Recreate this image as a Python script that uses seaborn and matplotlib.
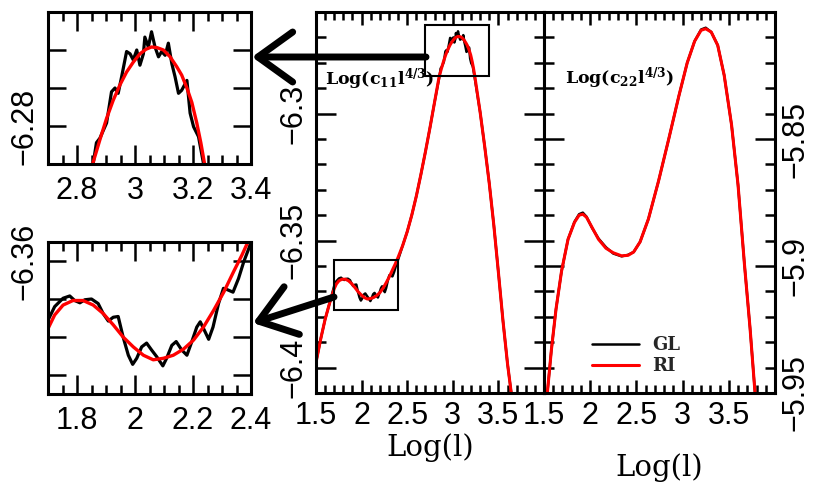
import matplotlib
matplotlib.use("Agg")
import matplotlib.pyplot as plt
import seaborn as sns
from matplotlib.patches import Rectangle, FancyArrowPatch
from matplotlib.ticker import MultipleLocator, FixedLocator, FixedFormatter

# ---------------- data ----------------
# Log(c11 l^{4/3}) vs Log(l): RI (smooth) curve
RI_C11_X = [1.50, 1.55, 1.60, 1.65, 1.70, 1.723, 1.752, 1.786, 1.821, 1.856,
            1.890, 1.925, 1.959, 1.994, 2.029, 2.063, 2.098, 2.132, 2.167, 2.202,
            2.236, 2.271, 2.306, 2.340, 2.369, 2.40, 2.45, 2.50, 2.55, 2.60,
            2.65, 2.70, 2.75, 2.80, 2.85, 2.879, 2.902, 2.925, 2.948, 2.971,
            2.994, 3.017, 3.038, 3.057, 3.077, 3.098, 3.121, 3.144, 3.161, 3.179,
            3.196, 3.213, 3.227, 3.240, 3.30, 3.35, 3.40, 3.45, 3.50, 3.55,
            3.60, 3.65]
RI_C11_Y = [-6.398, -6.389, -6.381, -6.3745, -6.3689, -6.3671, -6.3658, -6.3652, -6.3652, -6.3658,
            -6.3669, -6.3684, -6.3700, -6.3713, -6.3724, -6.3730, -6.3728, -6.3724, -6.3716, -6.3704,
            -6.3687, -6.3665, -6.3641, -6.3614, -6.3592, -6.3566, -6.3520, -6.3465, -6.3400, -6.3325,
            -6.3240, -6.3150, -6.3055, -6.2955, -6.2855, -6.2818, -6.2790, -6.2766, -6.2746, -6.2729,
            -6.2716, -6.2705, -6.2699, -6.2696, -6.2697, -6.2700, -6.2709, -6.2722, -6.2733, -6.2750,
            -6.2769, -6.2796, -6.2822, -6.2850, -6.2995, -6.3130, -6.3275, -6.3440, -6.3625, -6.3815,
            -6.3985, -6.4125]

# Log(c11 l^{4/3}) vs Log(l): GL (oscillating) curve
GL_C11_X = [1.50, 1.55, 1.60, 1.65,
            1.700, 1.723, 1.752, 1.775, 1.792, 1.810, 1.827, 1.850, 1.873, 1.890,
            1.908, 1.925, 1.942, 1.959, 1.977, 1.992, 2.006, 2.023, 2.040, 2.057,
            2.075, 2.096, 2.109, 2.127, 2.142, 2.161, 2.179, 2.196, 2.213, 2.225,
            2.239, 2.254, 2.269, 2.288, 2.305, 2.320, 2.338, 2.357, 2.375, 2.392,
            2.45, 2.50, 2.55, 2.60, 2.65, 2.70, 2.75, 2.80,
            2.856, 2.867, 2.879, 2.902, 2.919, 2.931, 2.942, 2.954, 2.971, 2.983,
            2.994, 3.006, 3.017, 3.029, 3.034, 3.046, 3.057, 3.069, 3.081, 3.092,
            3.104, 3.115, 3.127, 3.138, 3.150, 3.161, 3.179, 3.190, 3.202, 3.219,
            3.236,
            3.30, 3.35, 3.40, 3.45, 3.50, 3.55, 3.60, 3.65]
GL_C11_Y = [-6.398, -6.389, -6.381, -6.3745,
            -6.3678, -6.3660, -6.3649, -6.3646, -6.3652, -6.3655, -6.3651, -6.3650, -6.3656, -6.3669,
            -6.3679, -6.3674, -6.3673, -6.3700, -6.3724, -6.3736, -6.3728, -6.3713, -6.3708, -6.3717,
            -6.3726, -6.3738, -6.3728, -6.3711, -6.3706, -6.3717, -6.3724, -6.3706, -6.3687, -6.3680,
            -6.3691, -6.3703, -6.3687, -6.3656, -6.3636, -6.3638, -6.3641, -6.3623, -6.3601, -6.3584,
            -6.3520, -6.3465, -6.3400, -6.3325, -6.3240, -6.3150, -6.3055, -6.2955,
            -6.2849, -6.2822, -6.2816, -6.2796, -6.2755, -6.2750, -6.2757, -6.2735, -6.2702, -6.2705,
            -6.2713, -6.2700, -6.2720, -6.2705, -6.2683, -6.2696, -6.2676, -6.2696, -6.2709, -6.2702,
            -6.2707, -6.2691, -6.2718, -6.2735, -6.2757, -6.2753, -6.2740, -6.2783, -6.2801, -6.2814,
            -6.2849,
            -6.2995, -6.3130, -6.3275, -6.3440, -6.3625, -6.3815, -6.3985, -6.4125]

# Log(c22 l^{4/3}) vs Log(l)
C22_X = [1.536, 1.58, 1.63, 1.69, 1.76, 1.83, 1.88, 1.92, 1.96, 2.02,
         2.09, 2.17, 2.25, 2.34, 2.41, 2.47, 2.54, 2.63, 2.74, 2.85,
         2.96, 3.05, 3.13, 3.20, 3.25, 3.31, 3.38, 3.45, 3.53, 3.60,
         3.67, 3.73, 3.784]
RI_C22_Y = [-5.950, -5.933, -5.917, -5.902, -5.8895, -5.8828, -5.8800, -5.8796, -5.8808, -5.8848,
            -5.8895, -5.8930, -5.8948, -5.8960, -5.8958, -5.8945, -5.8905, -5.8815, -5.8665, -5.8500,
            -5.8330, -5.8200, -5.8115, -5.8072, -5.8066, -5.8079, -5.8131, -5.8249, -5.8445, -5.8681,
            -5.8996, -5.9245, -5.950]
GL_C22_Y = [-5.950, -5.933, -5.917, -5.902, -5.8895, -5.8826, -5.8796, -5.8790, -5.8806, -5.8850,
            -5.8892, -5.8926, -5.8951, -5.8962, -5.8956, -5.8945, -5.8905, -5.8815, -5.8665, -5.8500,
            -5.8330, -5.8200, -5.8115, -5.8069, -5.8062, -5.8079, -5.8131, -5.8249, -5.8445, -5.8681,
            -5.8996, -5.9245, -5.950]

SERIES = ["GL", "RI"]

# axis limits / ticks
MAIN_XLIM = (1.5, 4.0)
MAIN_XTICKS = [1.5, 2.0, 2.5, 3.0, 3.5]
MAIN_XLABELS = ["1.5", "2", "2.5", "3", "3.5"]
C11_YLIM = (-6.41, -6.26)
C11_YTICKS = [-6.40, -6.35, -6.30]
C11_YLABELS = ["\u22126.4", "\u22126.35", "\u22126.3"]
C22_YLIM = (-5.95, -5.80)
C22_YTICKS = [-5.95, -5.90, -5.85]
C22_YLABELS = ["\u22125.95", "\u22125.9", "\u22125.85"]

ZOOM1_XLIM = (2.7, 3.4)
ZOOM1_YLIM = (-6.285, -6.265)
ZOOM1_XTICKS = [2.8, 3.0, 3.2, 3.4]
ZOOM1_XLABELS = ["2.8", "3", "3.2", "3.4"]
ZOOM1_YTICKS = [-6.28, -6.275, -6.27]
ZOOM1_YLABELS = ["\u22126.28", "", ""]

ZOOM2_XLIM = (1.7, 2.4)
ZOOM2_YLIM = (-6.3775, -6.3575)
ZOOM2_XTICKS = [1.8, 2.0, 2.2, 2.4]
ZOOM2_XLABELS = ["1.8", "2", "2.2", "2.4"]
ZOOM2_YTICKS = [-6.375, -6.37, -6.365, -6.36]
ZOOM2_YLABELS = ["", "", "", "\u22126.36"]

# ---------------- style ----------------
sns.set_theme(style="ticks")
plt.rcParams.update({
    "font.family": ["Liberation Sans", "DejaVu Sans"],
    "mathtext.fontset": "custom",
    "mathtext.rm": "DejaVu Serif:bold",
    "mathtext.it": "DejaVu Serif:bold",
    "mathtext.bf": "DejaVu Serif:bold",
    "axes.linewidth": 2.2,
    "axes.edgecolor": "black",
    "axes.facecolor": "white",
    "figure.facecolor": "white",
    "xtick.color": "black",
    "ytick.color": "black",
    "axes.unicode_minus": True,
})

W, H = 814, 484
fig = plt.figure(figsize=(W / 100, H / 100), dpi=100)


def px_axes(x0, y0, x1, y1):
    return fig.add_axes([x0 / W, 1 - y1 / H, (x1 - x0) / W, (y1 - y0) / H])


TICK_FS = 22


def style_axis(ax, xmaj, xmin, ymaj, ymin, ylab_side="left", ypad=6.2, xpad=8.5):
    ax.tick_params(which="both", direction="in", top=True, bottom=True,
                   left=True, right=True, width=1.8, colors="black")
    ax.tick_params(axis="x", which="major", length=xmaj, pad=xpad, labelsize=TICK_FS)
    ax.tick_params(axis="x", which="minor", length=xmin)
    ax.tick_params(axis="y", which="major", length=ymaj, labelsize=TICK_FS,
                   labelrotation=90, pad=ypad)
    ax.tick_params(axis="y", which="minor", length=ymin)
    if ylab_side == "right":
        ax.tick_params(axis="y", labelleft=False, labelright=True)
    for t in ax.yaxis.get_ticklabels():
        t.set_va("center")
    for s in ax.spines.values():
        s.set_linewidth(2.2)
        s.set_color("black")
        s.set_visible(True)


def draw_pair(ax, gx, gy, rx, ry, lw_g, lw_r, labels=False):
    sns.lineplot(x=gx, y=gy, ax=ax, color="black", linewidth=lw_g,
                 estimator=None, sort=False, label=SERIES[0] if labels else None)
    sns.lineplot(x=rx, y=ry, ax=ax, color="#ff0000", linewidth=lw_r,
                 estimator=None, sort=False, label=SERIES[1] if labels else None)


# ---------------- middle panel (c11) ----------------
ax_m = px_axes(316, 12, 544, 393)
draw_pair(ax_m, GL_C11_X, GL_C11_Y, RI_C11_X, RI_C11_Y, 1.8, 2.2)
ax_m.set_xlim(*MAIN_XLIM)
ax_m.set_ylim(*C11_YLIM)
ax_m.xaxis.set_major_locator(FixedLocator(MAIN_XTICKS))
ax_m.xaxis.set_major_formatter(FixedFormatter(MAIN_XLABELS))
ax_m.xaxis.set_minor_locator(MultipleLocator(0.1))
ax_m.yaxis.set_major_locator(FixedLocator(C11_YTICKS))
ax_m.yaxis.set_major_formatter(FixedFormatter(C11_YLABELS))
ax_m.yaxis.set_minor_locator(MultipleLocator(0.01))
ax_m.set_xlabel("")
ax_m.set_ylabel("")
style_axis(ax_m, 9.4, 5.5, 14.4, 7.2, "left", ypad=5.5, xpad=5.5)
for xl, yl in [(ZOOM1_XLIM, ZOOM1_YLIM), (ZOOM2_XLIM, ZOOM2_YLIM)]:
    ax_m.add_patch(Rectangle((xl[0], yl[0]), xl[1] - xl[0], yl[1] - yl[0],
                             fill=False, ec="black", lw=1.5, zorder=5))
ax_m.text(0.04, 0.824, r"$\mathrm{Log(c_{11}l^{4/3})}$", transform=ax_m.transAxes,
          ha="left", va="center", fontsize=12.5, color="black", zorder=6)
ax_m.text(0.5, 1 - (448 - 12) / 381, "Log(l)", transform=ax_m.transAxes,
          ha="center", va="center", fontsize=21, family="DejaVu Serif", color="black")

# ---------------- right panel (c22) ----------------
ax_r = px_axes(544, 12, 775, 393)
draw_pair(ax_r, C22_X, GL_C22_Y, C22_X, RI_C22_Y, 1.8, 2.2, labels=True)
ax_r.set_xlim(*MAIN_XLIM)
ax_r.set_ylim(*C22_YLIM)
ax_r.xaxis.set_major_locator(FixedLocator(MAIN_XTICKS))
ax_r.xaxis.set_major_formatter(FixedFormatter(MAIN_XLABELS))
ax_r.xaxis.set_minor_locator(MultipleLocator(0.1))
ax_r.yaxis.set_major_locator(FixedLocator(C22_YTICKS))
ax_r.yaxis.set_major_formatter(FixedFormatter(C22_YLABELS))
ax_r.yaxis.set_minor_locator(MultipleLocator(0.01))
ax_r.set_xlabel("")
ax_r.set_ylabel("")
style_axis(ax_r, 9.4, 5.5, 14.4, 7.2, "right", ypad=4.3, xpad=6.0)
ax_r.text(0.09, 0.827, r"$\mathrm{Log(c_{22}l^{4/3})}$", transform=ax_r.transAxes,
          ha="left", va="center", fontsize=12.5, color="black")
ax_r.text(0.5, 1 - (468 - 12) / 381, "Log(l)", transform=ax_r.transAxes,
          ha="center", va="center", fontsize=21, family="DejaVu Serif", color="black")
leg = ax_r.legend(loc="center left", bbox_to_anchor=(0.208, 0.098), frameon=False,
                  handlelength=2.6, handletextpad=0.75, labelspacing=0.15,
                  borderpad=0, borderaxespad=0,
                  prop={"family": "DejaVu Serif", "weight": "bold", "size": 13})

# ---------------- zoom insets ----------------
for (y0, y1, xl, yl, xt, xtl, yt, ytl) in [
        (12, 164, ZOOM1_XLIM, ZOOM1_YLIM, ZOOM1_XTICKS, ZOOM1_XLABELS, ZOOM1_YTICKS, ZOOM1_YLABELS),
        (242, 394, ZOOM2_XLIM, ZOOM2_YLIM, ZOOM2_XTICKS, ZOOM2_XLABELS, ZOOM2_YTICKS, ZOOM2_YLABELS)]:
    ax_i = px_axes(48, y0, 251, y1)
    draw_pair(ax_i, GL_C11_X, GL_C11_Y, RI_C11_X, RI_C11_Y, 2.3, 2.4)
    ax_i.set_xlim(*xl)
    ax_i.set_ylim(*yl)
    ax_i.xaxis.set_major_locator(FixedLocator(xt))
    ax_i.xaxis.set_major_formatter(FixedFormatter(xtl))
    ax_i.xaxis.set_minor_locator(MultipleLocator(0.05))
    ax_i.yaxis.set_major_locator(FixedLocator(yt))
    ax_i.yaxis.set_major_formatter(FixedFormatter(ytl))
    ax_i.set_xlabel("")
    ax_i.set_ylabel("")
    style_axis(ax_i, 13.7, 6.5, 13.0, 6.5, "left", ypad=6.2, xpad=8.5)

# ---------------- arrows ----------------
for tail, tip in [((426, 57), (252, 57)), ((334, 297), (253, 323))]:
    arr = FancyArrowPatch((tail[0] / W, 1 - tail[1] / H), (tip[0] / W, 1 - tip[1] / H),
                          transform=fig.transFigure,
                          arrowstyle="->,head_length=2.5,head_width=1.8",
                          mutation_scale=10, lw=5, color="black",
                          shrinkA=0, shrinkB=0, zorder=10)
    fig.add_artist(arr)

fig.savefig("out.png", dpi=100, facecolor="white")
